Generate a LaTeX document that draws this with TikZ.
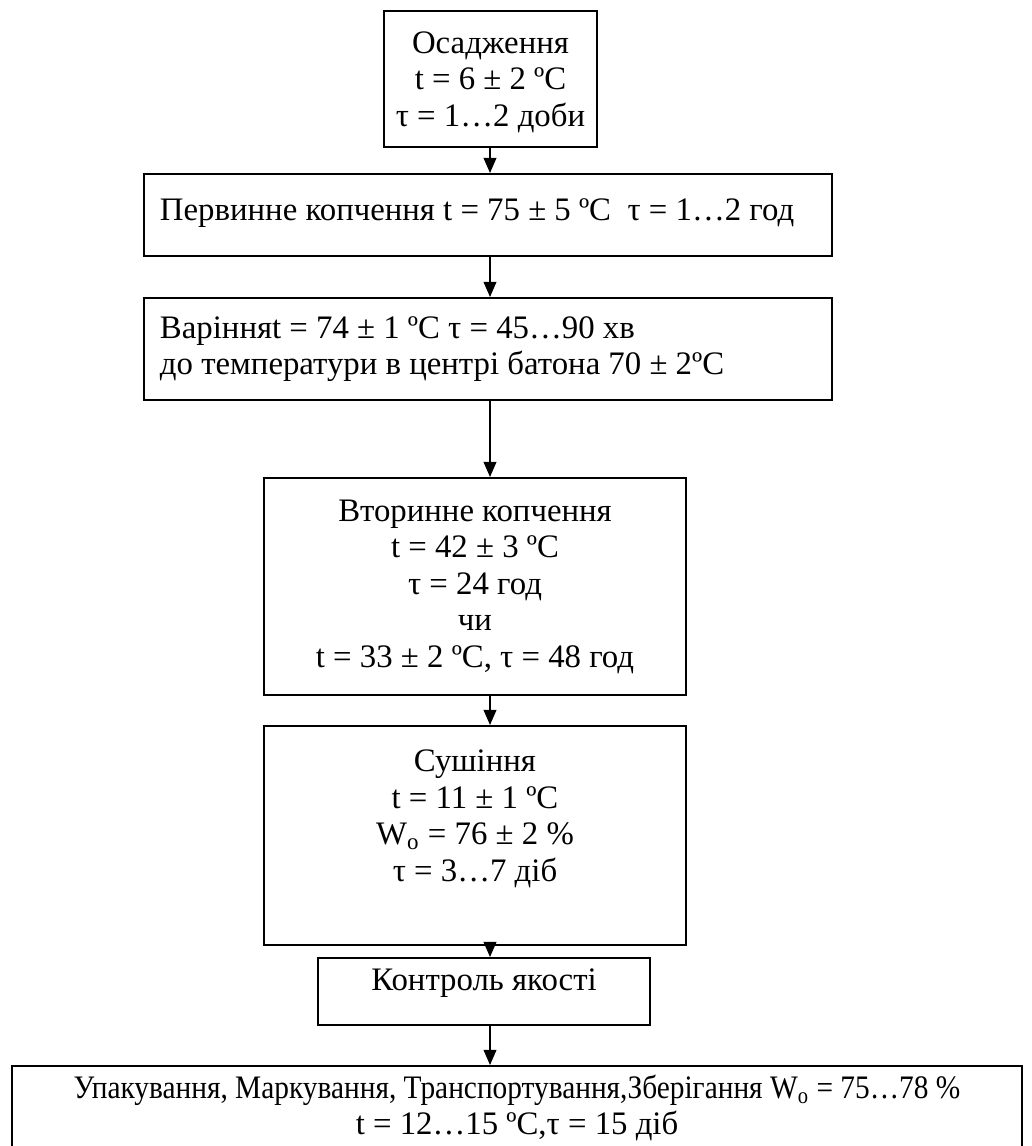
\documentclass[tikz,border=0pt]{standalone}
\usepackage{fontspec}
\setmainfont{Liberation Serif}
\usetikzlibrary{positioning, arrows.meta}

\tikzset{
  stage/.style={draw, line width=0.9pt, align=center, inner sep=0pt, anchor=north},
  wide/.style={stage, text width=9.84cm, align=justify, inner xsep=0.24cm},
  flow/.style={-{Triangle[width=5.5pt,length=6.5pt]}, line width=0.6pt},
}

\begin{document}
\begin{tikzpicture}[x=0.015cm, y=-0.015cm,
    every node/.style={font=\fontsize{14pt}{15.6pt}\selectfont}]
  \useasboundingbox (0,0) rectangle (1031,1146);
  \coordinate (axis) at (490,0);

  \node[stage, minimum width=3.195cm, minimum height=2.04cm, text depth=0pt] (settle) at (490.5,10)
    {Осадження\\ t = 6 ± 2 ºC\\ τ = 1…2 доби};
  \node[wide, minimum height=1.23cm, text depth=5pt] (smoke) at (488,173)
    {Первинне копчення t = 75 ± 5 ºC\ \ τ = 1…2 год};
  \node[wide, minimum height=1.53cm] (boil) at (488,297)
    {Варінняt = 74 ± 1 ºC τ = 45…90 хв\\ до температури в центрі батона 70 ± 2ºC};
  \node[stage, minimum width=6.33cm, minimum height=3.255cm] (smoke2) at (475,477)
    {Вторинне копчення\\ t = 42 ± 3 ºC\\ τ = 24 год\\ чи\\ t = 33 ± 2 ºC, τ = 48 год};
  \node[stage, minimum width=6.33cm, minimum height=3.285cm, text depth=17pt] (dry) at (475,725)
    {Сушіння\\ t = 11 ± 1 ºC\\ W\textsubscript{o} = 76 ± 2 \%\\ τ = 3…7 діб};
  \node[stage, minimum width=4.98cm, minimum height=1.005cm, text depth=10pt] (control) at (484,957)
    {Контроль якості};
  \node[stage, minimum width=15.15cm, minimum height=1.25cm] (pack) at (517,1065)
    {{\addfontfeature{FakeStretch=0.895}Упакування, Маркування, Транспортування,Зберігання W\textsubscript{o} = 75…78 \%}\\
     t = 12…15 ºC,τ = 15 діб};

  \draw[flow] (settle.south -| axis) -- (smoke.north -| axis);
  \draw[flow] (smoke.south -| axis) -- (boil.north -| axis);
  \draw[flow] (boil.south -| axis) -- (smoke2.north -| axis);
  \draw[flow] (smoke2.south -| axis) -- (dry.north -| axis);
  \draw[flow] (dry.south -| axis) -- (control.north -| axis);
  \draw[flow] (control.south -| axis) -- (pack.north -| axis);
\end{tikzpicture}
\end{document}
